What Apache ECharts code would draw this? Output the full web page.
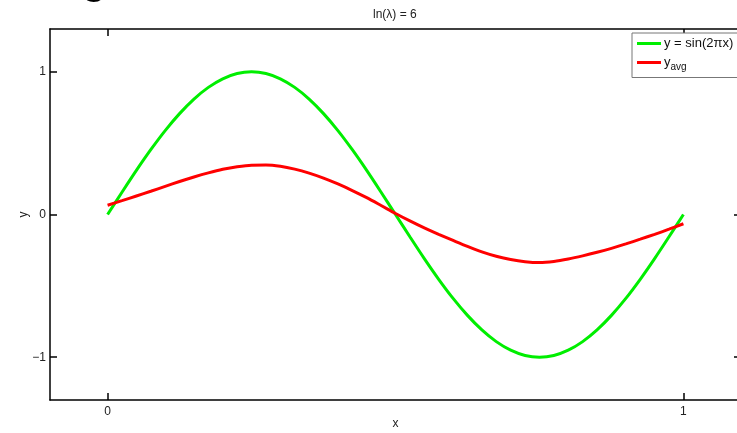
<!DOCTYPE html>
<html>
<head>
<meta charset="utf-8">
<script src="https://cdn.jsdelivr.net/npm/echarts@6/dist/echarts.min.js"></script>
<style>
  html, body { margin: 0; padding: 0; background: #fff; overflow: hidden; }
  #chart { width: 737px; height: 433px; }
</style>
</head>
<body>
<div id="chart"></div>
<script>
// x positions of the sampled points
var xs = [0, 0.025, 0.05, 0.075, 0.1, 0.125, 0.15, 0.175, 0.2, 0.225, 0.25,
          0.275, 0.3, 0.325, 0.35, 0.375, 0.4, 0.425, 0.45, 0.475, 0.5,
          0.525, 0.55, 0.575, 0.6, 0.625, 0.65, 0.675, 0.7, 0.725, 0.75,
          0.775, 0.8, 0.825, 0.85, 0.875, 0.9, 0.925, 0.95, 0.975, 1]
// green curve y = sin(2πx)
var sinVals = [0, 0.156, 0.309, 0.454, 0.588, 0.707, 0.809, 0.891, 0.951, 0.988, 1,
               0.988, 0.951, 0.891, 0.809, 0.707, 0.588, 0.454, 0.309, 0.156, 0,
               -0.156, -0.309, -0.454, -0.588, -0.707, -0.809, -0.891, -0.951, -0.988, -1,
               -0.988, -0.951, -0.891, -0.809, -0.707, -0.588, -0.454, -0.309, -0.156, 0]
// red curve y_avg
var avgVals = [0.065, 0.097, 0.13, 0.163, 0.197, 0.231, 0.263, 0.292, 0.317, 0.335, 0.346,
               0.347, 0.338, 0.318, 0.29, 0.255, 0.214, 0.168, 0.118, 0.063, 0.007,
               -0.045, -0.094, -0.139, -0.182, -0.224, -0.262, -0.293, -0.316, -0.331, -0.337,
               -0.329, -0.312, -0.29, -0.265, -0.237, -0.206, -0.173, -0.139, -0.103, -0.065]
var xTicks = [0, 1]
var yTicks = [-1, 0, 1]
var titleText = 'ln(λ) = 6'

var FONT = 'Liberation Sans, Arial, sans-serif'

function pairs(ys) {
  return xs.map(function (x, i) { return [x, ys[i]] })
}

var chart = echarts.init(document.getElementById('chart'))

var axisLine = { onZero: false, lineStyle: { color: '#000', width: 1.5 } }
var tickStyle = { color: '#000', width: 1.5 }

var option = {
  animation: false,
  backgroundColor: '#fff',
  title: {
    text: titleText,
    left: 368,
    top: 4,
    textStyle: { fontFamily: FONT, fontSize: 12, fontWeight: 'normal', color: '#222' }
  },
  graphic: [
    {
      // bottom of a cropped heading glyph at the top edge
      type: 'text',
      left: 82,
      top: -37,
      style: { text: 'g', font: 'bold 40px ' + FONT, fill: '#000' }
    }
  ],
  legend: {
    left: 632,
    top: 33,
    orient: 'vertical',
    backgroundColor: '#fff',
    borderColor: '#777',
    borderWidth: 1,
    padding: [4, 6, 5, 5],
    itemGap: 6,
    itemWidth: 24,
    itemHeight: 3,
    icon: 'rect',
    textStyle: {
      fontFamily: FONT,
      fontSize: 13,
      color: '#111',
      padding: [0, 0, 0, -2],
      rich: {
        sub: { fontFamily: FONT, fontSize: 10, color: '#111', padding: [10, 0, 0, 0] }
      }
    },
    formatter: function (name) {
      return name === 'y_avg' ? 'y{sub|avg}' : name
    },
    data: ['y = sin(2πx)', 'y_avg']
  },
  grid: { left: 50, top: 29, bottom: 33, right: -4, outerBoundsMode: 'none', containLabel: false },
  xAxis: [
    {
      type: 'value',
      min: -0.1,
      max: 1.1,
      position: 'bottom',
      name: 'x',
      nameLocation: 'middle',
      nameGap: 18,
      nameMoveOverlap: false,
      nameTextStyle: { fontFamily: FONT, fontSize: 12, color: '#222' },
      axisLine: axisLine,
      splitLine: { show: false },
      axisTick: { inside: true, length: 7, customValues: xTicks, lineStyle: tickStyle },
      axisLabel: { customValues: xTicks, margin: 6, fontFamily: FONT, fontSize: 12, color: '#222' }
    },
    {
      type: 'value',
      min: -0.1,
      max: 1.1,
      position: 'top',
      axisLine: axisLine,
      splitLine: { show: false },
      axisTick: { inside: true, length: 7, customValues: xTicks, lineStyle: tickStyle },
      axisLabel: { show: false }
    }
  ],
  yAxis: [
    {
      type: 'value',
      min: -1.3,
      max: 1.3,
      position: 'left',
      name: 'y',
      nameLocation: 'middle',
      nameGap: 20,
      nameMoveOverlap: false,
      nameRotate: 90,
      nameTextStyle: { fontFamily: FONT, fontSize: 12, color: '#222' },
      axisLine: axisLine,
      splitLine: { show: false },
      axisTick: { inside: true, length: 7, customValues: yTicks, lineStyle: tickStyle },
      axisLabel: {
        customValues: yTicks,
        margin: 4,
        fontFamily: FONT,
        fontSize: 12,
        color: '#222',
        formatter: function (v) { return v < 0 ? '\u2212' + Math.abs(v) : String(v) }
      }
    },
    {
      type: 'value',
      min: -1.3,
      max: 1.3,
      position: 'right',
      axisLine: axisLine,
      splitLine: { show: false },
      axisTick: { inside: true, length: 7, customValues: yTicks, lineStyle: tickStyle },
      axisLabel: { show: false }
    }
  ],
  series: [
    {
      name: 'y = sin(2πx)',
      type: 'line',
      smooth: 0.3,
      showSymbol: false,
      itemStyle: { color: '#00ee00' },
      lineStyle: { color: '#00ee00', width: 3 },
      data: pairs(sinVals)
    },
    {
      name: 'y_avg',
      type: 'line',
      smooth: 0.3,
      showSymbol: false,
      itemStyle: { color: '#ff0000' },
      lineStyle: { color: '#ff0000', width: 3 },
      data: pairs(avgVals)
    }
  ]
}

chart.setOption(option)
</script>
</body>
</html>
